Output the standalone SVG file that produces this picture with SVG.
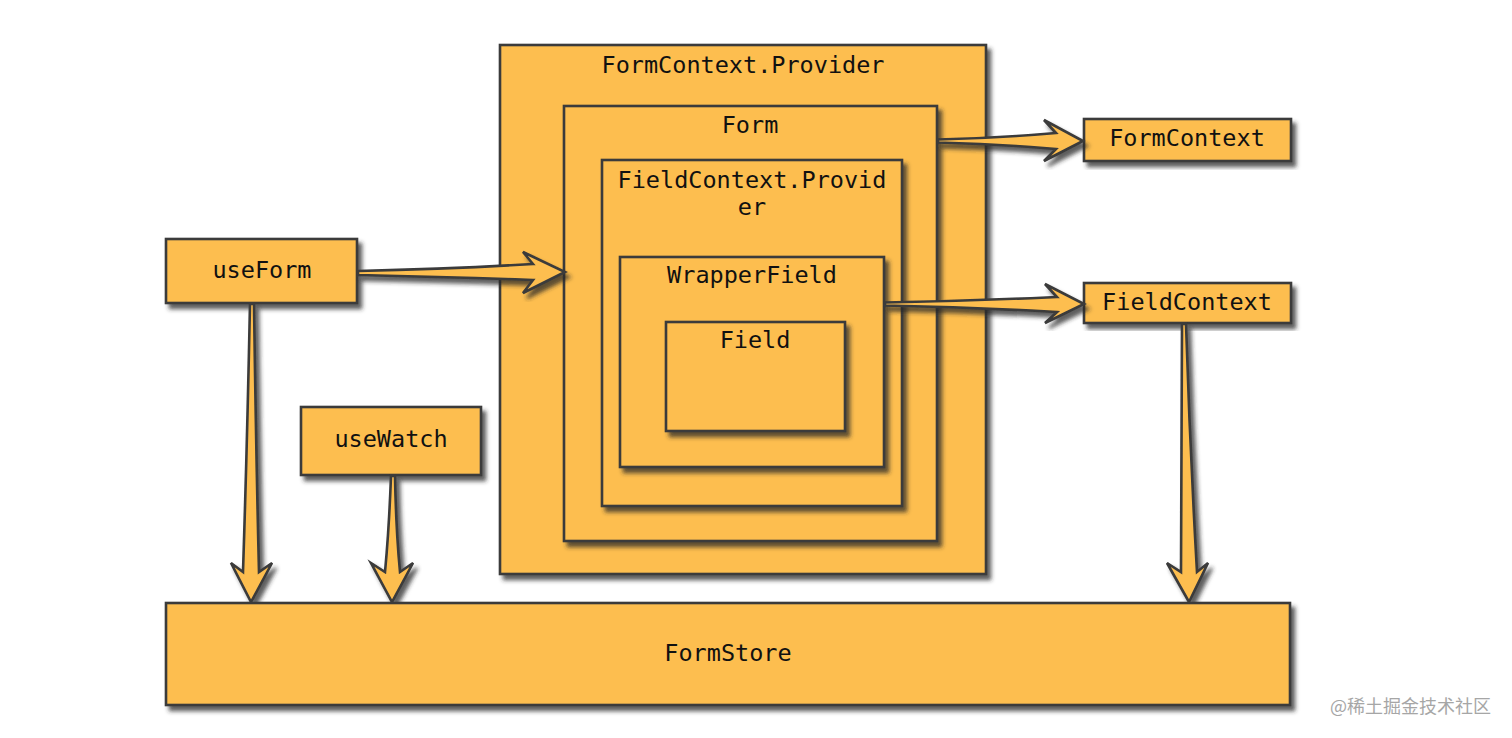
<svg xmlns="http://www.w3.org/2000/svg" width="1512" height="738" viewBox="0 0 1512 738">
<defs>
<filter id="sh" x="-10%" y="-10%" width="130%" height="130%">
<feDropShadow dx="4" dy="5" stdDeviation="2" flood-color="#2a2a2a" flood-opacity="0.75"/>
</filter>
<style>
.box{fill:#FDBE50;stroke:#3a3a3a;stroke-width:2.6;filter:url(#sh)}
.arr{fill:#FDBE50;stroke:#3a3a3a;stroke-width:2.6;stroke-linejoin:miter;filter:url(#sh)}
.lbl{font-family:"DejaVu Sans Mono","Liberation Mono",monospace;font-size:23.5px;fill:#111;text-anchor:middle}
.wm{font-family:"Noto Sans CJK SC","Noto Sans",sans-serif;font-size:18px;fill:#a6a6a6;text-anchor:end}
</style>
</defs>
<rect width="1512" height="738" fill="#ffffff"/>
<g id="formcontext-provider">
<rect class="box" x="500" y="45" width="486" height="529"/>
<text class="lbl" x="743" y="73">FormContext.Provider</text>
</g>
<g id="form">
<rect class="box" x="564" y="106" width="373" height="435"/>
<text class="lbl" x="750" y="133">Form</text>
</g>
<g id="fieldcontext-provider">
<rect class="box" x="602" y="160" width="300" height="346"/>
<text class="lbl" x="752" y="188">FieldContext.Provid</text>
<text class="lbl" x="752" y="215">er</text>
</g>
<g id="wrapperfield">
<rect class="box" x="620" y="257" width="264" height="210"/>
<text class="lbl" x="752" y="283">WrapperField</text>
</g>
<g id="field">
<rect class="box" x="666" y="322" width="179" height="109"/>
<text class="lbl" x="755" y="348">Field</text>
</g>
<g id="useform">
<rect class="box" x="166" y="239" width="191" height="64"/>
<text class="lbl" x="262" y="278">useForm</text>
</g>
<g id="usewatch">
<rect class="box" x="301" y="407" width="180" height="68"/>
<text class="lbl" x="391" y="447">useWatch</text>
</g>
<g id="formcontext">
<rect class="box" x="1084" y="119" width="207" height="42"/>
<text class="lbl" x="1187" y="146">FormContext</text>
</g>
<g id="fieldcontext">
<rect class="box" x="1084" y="283" width="207" height="40"/>
<text class="lbl" x="1187" y="310">FieldContext</text>
</g>
<g id="connectors">
<path class="arr" d="M358,271 Q450,269 533,264 L523,252 L565,272 L523,293 L533,280 Q450,277 358,275 Z"/>
<path class="arr" d="M938,139.5 Q1000,138 1056,133 L1044,120 L1083,141 L1044,161 L1056,149 Q1000,144 938,142.5 Z"/>
<path class="arr" d="M885,302.5 Q970,301 1057,297 L1045,284 L1084,304 L1045,323 L1057,312 Q970,307 885,305.5 Z"/>
<path class="arr" d="M250,304 Q247,450 243,572 L231,563 L251,602 L272,563 L259,572 Q256,450 254,304 Z"/>
<path class="arr" d="M391,476 Q389,530 385,572 L371,563 L392,602 L413,563 L400,572 Q396,530 395,476 Z"/>
<path class="arr" d="M1182,324 Q1181,450 1181,572 L1167,563 L1189,602 L1208,563 L1197,572 Q1190,450 1186,324 Z"/>
</g>
<g id="formstore">
<rect class="box" x="166" y="603" width="1124" height="102"/>
<text class="lbl" x="728" y="661">FormStore</text>
</g>
<text class="wm" x="1491" y="713">@稀土掘金技术社区</text>
</svg>
